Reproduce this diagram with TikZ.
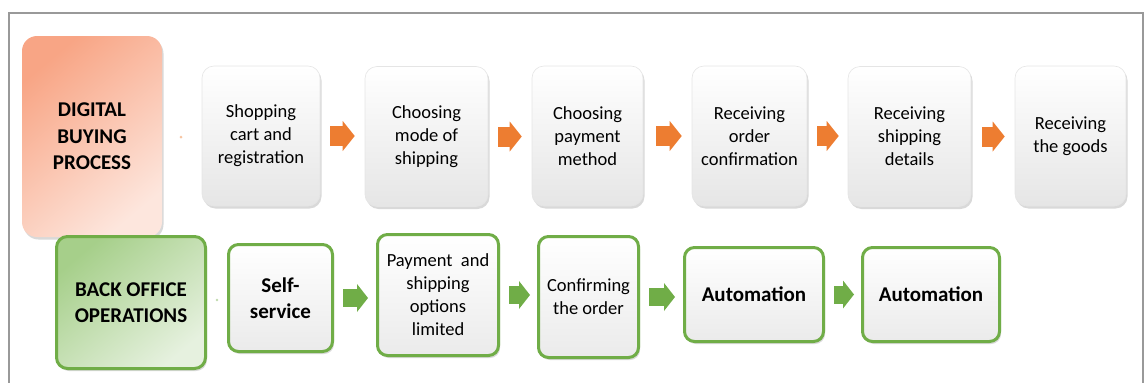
\documentclass[tikz,border=0pt]{standalone}
\usepackage{fontspec}
\setmainfont{Carlito}
\usepackage{tikz}
\usetikzlibrary{shadows}
\usetikzlibrary{arrows.meta}

\definecolor{tangerine}{HTML}{ED7D31}
\definecolor{leaf}{HTML}{70AD47}
\definecolor{salmonA}{HTML}{F8A585}
\definecolor{salmonB}{HTML}{FDE6DD}
\definecolor{leafA}{HTML}{A6CF8A}
\definecolor{leafB}{HTML}{E6F1DF}

\begin{document}
\begin{tikzpicture}[%
  x=1pt, y=-1pt,
  softshadow/.style={drop shadow={shadow xshift=1.5pt, shadow yshift=-2.5pt, opacity=0.3}},
  stagebox/.style={rounded corners=12pt, draw=gray!20, line width=0.6pt,
    top color=white, bottom color=gray!20, softshadow,
    align=center, inner sep=0pt, minimum height=140pt,
    font=\fontsize{18.5}{23}\selectfont},
  opsbox/.style={rounded corners=10pt, draw=leaf, line width=3pt,
    top color=white, bottom color=gray!16, softshadow,
    align=center, inner sep=0pt,
    font=\fontsize{18.5}{23}\selectfont},
  headbox/.style={align=center, inner sep=0pt, softshadow,
    font=\bfseries\fontsize{21}{26.5}\selectfont},
  orangeflow/.style={draw=tangerine, line width=20pt,
    -{Triangle[length=12pt,width=30pt,line width=0pt]},
    shorten <=10pt, shorten >=10pt},
  greenflow/.style={draw=leaf, line width=18pt,
    -{Triangle[length=11pt,width=28pt,line width=0pt]},
    shorten <=9pt, shorten >=8pt}]

  \useasboundingbox (0,0) rectangle (1144,383);
  \draw[gray!80, line width=1.2pt] (9,383) |- (1143,13) -- (1143,383);

  % buying row
  \node[headbox, rounded corners=15pt, minimum width=140pt, minimum height=201pt,
    top color=salmonA, bottom color=salmonB, shading angle=40] (buy) at (92,136.5)
    {DIGITAL\\BUYING\\PROCESS};
  \fill[tangerine!45] (181,137) circle (1.5pt);

  \node[stagebox, minimum width=118pt] (cart) at (261,136) {Shopping\\cart and\\registration};
  \node[stagebox, minimum width=123pt] (ship) at (426.5,136.5) {Choosing\\mode of\\shipping};
  \node[stagebox, minimum width=111pt] (paying) at (587.5,136) {Choosing\\payment\\method};
  \node[stagebox, minimum width=115pt] (confirm) at (749.5,136) {Receiving\\order\\confirmation};
  \node[stagebox, minimum width=123pt] (details) at (909.5,136.5) {Receiving\\shipping\\details};
  \node[stagebox, minimum width=111pt] (goods) at (1070.5,136) {Receiving\\the goods};

  \draw[orangeflow] (cart) -- (cart -| ship.west);
  \draw[orangeflow] (ship) -- (ship -| paying.west);
  \draw[orangeflow, shorten <=13pt] (paying) -- (paying -| confirm.west);
  \draw[orangeflow, shorten >=9pt] (confirm) -- (confirm -| details.west);
  \draw[orangeflow, shorten <=11pt] (details) -- (details -| goods.west);

  % back office row
  \node[headbox, draw=leaf, line width=3pt, rounded corners=11pt,
    minimum width=149pt, minimum height=132pt,
    top color=leafA, bottom color=leafB, shading angle=40] (back) at (131,302.5)
    {BACK OFFICE\\OPERATIONS};
  \fill[leaf!45] (217,300) circle (1.3pt);

  \node[opsbox, minimum width=104pt, minimum height=107pt,
    font=\bfseries\fontsize{21}{26}\selectfont] (self) at (280.5,298) {Self-\\service};
  \node[opsbox, minimum width=121pt, minimum height=121pt] (limited) at (438,295)
    {Payment\ \ and\\shipping\\options\\limited};
  \node[opsbox, minimum width=100pt, minimum height=121pt] (order) at (588.5,297)
    {Confirming\\the order};
  \node[opsbox, minimum width=139pt, minimum height=94pt,
    font=\bfseries\fontsize{21}{26}\selectfont] (autoa) at (754,294.5) {Automation};
  \node[opsbox, minimum width=137pt, minimum height=94pt,
    font=\bfseries\fontsize{21}{26}\selectfont] (autob) at (931,294.5) {Automation};

  \draw[greenflow] (self) -- (self -| limited.west);
  \draw[greenflow, shorten >=7pt] (limited) -- (limited -| order.west);
  \draw[greenflow] (order) -- (order -| autoa.west);
  \draw[greenflow, shorten >=7pt] (autoa) -- (autoa -| autob.west);
\end{tikzpicture}
\end{document}
